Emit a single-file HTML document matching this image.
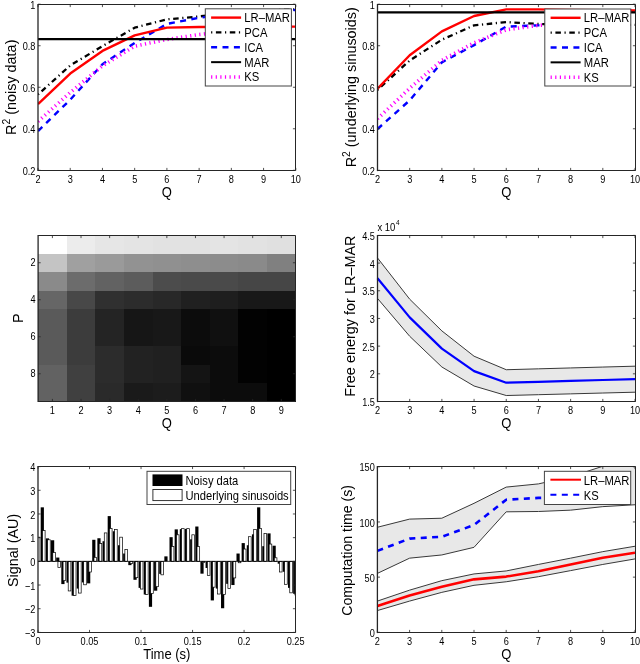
<!DOCTYPE html>
<html><head><meta charset="utf-8"><style>html,body{margin:0;padding:0;background:#fff;}svg{display:block;filter:blur(0.3px);}</style></head>
<body><svg width="640" height="664" viewBox="0 0 640 664" font-family='"Liberation Sans", sans-serif' fill="#000">
<rect width="640" height="664" fill="#fff"/>
<svg x="0" y="0" width="640" height="664" overflow="visible">
<clipPath id="c384"><rect x="38.0" y="4.2" width="257.8" height="166.10000000000002"/></clipPath>
<g clip-path="url(#c384)">
<polyline points="38.00,94.52 70.22,65.45 102.45,46.14 134.68,27.66 166.90,19.36 199.12,16.45 231.35,12.92 263.58,10.43 295.80,9.39" fill="none" stroke="#000000" stroke-width="2.3" stroke-dasharray="1.2 3.6 5.5 3.6" stroke-linejoin="round"/>
<polyline points="38.00,131.06 70.22,99.71 102.45,64.20 134.68,43.03 166.90,23.92 199.12,17.70 231.35,14.17 263.58,11.67 295.80,10.01" fill="none" stroke="#0000ff" stroke-width="2.4" stroke-dasharray="6 5.4" stroke-linejoin="round"/>
<polyline points="38.00,121.51 70.22,92.44 102.45,65.86 134.68,46.14 166.90,39.50 199.12,34.51 231.35,31.19 263.58,28.08 295.80,26.42" fill="none" stroke="#ff00ff" stroke-width="3.6" stroke-dasharray="1.2 3.4" stroke-linejoin="round"/>
<polyline points="38.00,104.07 70.22,73.55 102.45,50.92 134.68,35.34 166.90,27.66 199.12,27.04 231.35,26.83 263.58,26.62 295.80,26.62" fill="none" stroke="#ff0000" stroke-width="2.4" stroke-linejoin="round"/>
<line x1="38.0" y1="39.08100000000002" x2="295.8" y2="39.08100000000002" stroke="#000" stroke-width="2.3"/>
</g></svg>
<path d="M38.0 4.5H295.5M295.5 4.5V170.5M38.0 170.5H295.5" fill="none" stroke="#262626" stroke-width="1"/>
<line x1="38.0" y1="4.0" x2="38.0" y2="171.1" stroke="#262626" stroke-width="1.3"/>
<line x1="38.0" y1="170.5" x2="38.0" y2="167.9" stroke="#262626" stroke-width="0.8"/>
<line x1="38.0" y1="4.5" x2="38.0" y2="7.1" stroke="#262626" stroke-width="0.8"/>
<line x1="70.225" y1="170.5" x2="70.225" y2="167.9" stroke="#262626" stroke-width="0.8"/>
<line x1="70.225" y1="4.5" x2="70.225" y2="7.1" stroke="#262626" stroke-width="0.8"/>
<line x1="102.45" y1="170.5" x2="102.45" y2="167.9" stroke="#262626" stroke-width="0.8"/>
<line x1="102.45" y1="4.5" x2="102.45" y2="7.1" stroke="#262626" stroke-width="0.8"/>
<line x1="134.675" y1="170.5" x2="134.675" y2="167.9" stroke="#262626" stroke-width="0.8"/>
<line x1="134.675" y1="4.5" x2="134.675" y2="7.1" stroke="#262626" stroke-width="0.8"/>
<line x1="166.9" y1="170.5" x2="166.9" y2="167.9" stroke="#262626" stroke-width="0.8"/>
<line x1="166.9" y1="4.5" x2="166.9" y2="7.1" stroke="#262626" stroke-width="0.8"/>
<line x1="199.125" y1="170.5" x2="199.125" y2="167.9" stroke="#262626" stroke-width="0.8"/>
<line x1="199.125" y1="4.5" x2="199.125" y2="7.1" stroke="#262626" stroke-width="0.8"/>
<line x1="231.35000000000002" y1="170.5" x2="231.35000000000002" y2="167.9" stroke="#262626" stroke-width="0.8"/>
<line x1="231.35000000000002" y1="4.5" x2="231.35000000000002" y2="7.1" stroke="#262626" stroke-width="0.8"/>
<line x1="263.57500000000005" y1="170.5" x2="263.57500000000005" y2="167.9" stroke="#262626" stroke-width="0.8"/>
<line x1="263.57500000000005" y1="4.5" x2="263.57500000000005" y2="7.1" stroke="#262626" stroke-width="0.8"/>
<line x1="295.8" y1="170.5" x2="295.8" y2="167.9" stroke="#262626" stroke-width="0.8"/>
<line x1="295.8" y1="4.5" x2="295.8" y2="7.1" stroke="#262626" stroke-width="0.8"/>
<line x1="38.0" y1="170.3" x2="40.6" y2="170.3" stroke="#262626" stroke-width="0.8"/>
<line x1="295.5" y1="170.3" x2="292.9" y2="170.3" stroke="#262626" stroke-width="0.8"/>
<line x1="38.0" y1="128.775" x2="40.6" y2="128.775" stroke="#262626" stroke-width="0.8"/>
<line x1="295.5" y1="128.775" x2="292.9" y2="128.775" stroke="#262626" stroke-width="0.8"/>
<line x1="38.0" y1="87.25000000000001" x2="40.6" y2="87.25000000000001" stroke="#262626" stroke-width="0.8"/>
<line x1="295.5" y1="87.25000000000001" x2="292.9" y2="87.25000000000001" stroke="#262626" stroke-width="0.8"/>
<line x1="38.0" y1="45.725" x2="40.6" y2="45.725" stroke="#262626" stroke-width="0.8"/>
<line x1="295.5" y1="45.725" x2="292.9" y2="45.725" stroke="#262626" stroke-width="0.8"/>
<line x1="38.0" y1="4.2" x2="40.6" y2="4.2" stroke="#262626" stroke-width="0.8"/>
<line x1="295.5" y1="4.2" x2="292.9" y2="4.2" stroke="#262626" stroke-width="0.8"/>
<text transform="translate(38.00 182.80) scale(0.82 1)" font-size="11.2" text-anchor="middle">2</text>
<text transform="translate(70.22 182.80) scale(0.82 1)" font-size="11.2" text-anchor="middle">3</text>
<text transform="translate(102.45 182.80) scale(0.82 1)" font-size="11.2" text-anchor="middle">4</text>
<text transform="translate(134.68 182.80) scale(0.82 1)" font-size="11.2" text-anchor="middle">5</text>
<text transform="translate(166.90 182.80) scale(0.82 1)" font-size="11.2" text-anchor="middle">6</text>
<text transform="translate(199.12 182.80) scale(0.82 1)" font-size="11.2" text-anchor="middle">7</text>
<text transform="translate(231.35 182.80) scale(0.82 1)" font-size="11.2" text-anchor="middle">8</text>
<text transform="translate(263.58 182.80) scale(0.82 1)" font-size="11.2" text-anchor="middle">9</text>
<text transform="translate(295.80 182.80) scale(0.82 1)" font-size="11.2" text-anchor="middle">10</text>
<text transform="translate(35.40 174.90) scale(0.82 1)" font-size="11.2" text-anchor="end">0.2</text>
<text transform="translate(35.40 133.38) scale(0.82 1)" font-size="11.2" text-anchor="end">0.4</text>
<text transform="translate(35.40 91.85) scale(0.82 1)" font-size="11.2" text-anchor="end">0.6</text>
<text transform="translate(35.40 50.33) scale(0.82 1)" font-size="11.2" text-anchor="end">0.8</text>
<text transform="translate(35.40 8.80) scale(0.82 1)" font-size="11.2" text-anchor="end">1</text>
<text transform="translate(166.90 197.10) scale(0.905 1)" font-size="14.4" text-anchor="middle">Q</text>
<rect x="205.3" y="8.8" width="86.09999999999997" height="77.2" fill="#fff" stroke="#444" stroke-width="1"/>
<line x1="211.10000000000002" y1="17.6" x2="241.10000000000002" y2="17.6" stroke="#ff0000" stroke-width="2.4"/>
<text transform="translate(244.30 22.00) scale(0.895 1)" font-size="12.6" text-anchor="start">LR–MAR</text>
<line x1="211.10000000000002" y1="32.45" x2="241.10000000000002" y2="32.45" stroke="#000000" stroke-width="2.3" stroke-dasharray="1.2 3.6 5.5 3.6"/>
<text transform="translate(244.30 36.85) scale(0.895 1)" font-size="12.6" text-anchor="start">PCA</text>
<line x1="211.10000000000002" y1="47.3" x2="241.10000000000002" y2="47.3" stroke="#0000ff" stroke-width="2.4" stroke-dasharray="6 5.4"/>
<text transform="translate(244.30 51.70) scale(0.895 1)" font-size="12.6" text-anchor="start">ICA</text>
<line x1="211.10000000000002" y1="62.15" x2="241.10000000000002" y2="62.15" stroke="#000" stroke-width="2"/>
<text transform="translate(244.30 66.55) scale(0.895 1)" font-size="12.6" text-anchor="start">MAR</text>
<line x1="211.10000000000002" y1="77.0" x2="241.10000000000002" y2="77.0" stroke="#ff00ff" stroke-width="3.6" stroke-dasharray="1.2 3.4"/>
<text transform="translate(244.30 81.40) scale(0.895 1)" font-size="12.6" text-anchor="start">KS</text>
<text transform="translate(15.5 87.25) rotate(-90)" font-size="14.4" text-anchor="middle">R<tspan font-size="10.3" dy="-6">2</tspan><tspan dy="6"> (noisy data)</tspan></text>
<svg x="0" y="0" width="640" height="664" overflow="visible">
<clipPath id="c3774"><rect x="377.5" y="4.2" width="257.5" height="166.10000000000002"/></clipPath>
<g clip-path="url(#c3774)">
<polyline points="377.50,89.95 409.69,60.47 441.88,39.70 474.06,25.38 506.25,22.06 538.44,23.92 570.62,24.96 602.81,24.96 635.00,24.96" fill="none" stroke="#000000" stroke-width="2.3" stroke-dasharray="1.2 3.6 5.5 3.6" stroke-linejoin="round"/>
<polyline points="377.50,128.98 409.69,100.33 441.88,62.34 474.06,45.10 506.25,26.62 538.44,25.38 570.62,26.00 602.81,29.12 635.00,32.23" fill="none" stroke="#0000ff" stroke-width="2.4" stroke-dasharray="6 5.4" stroke-linejoin="round"/>
<polyline points="377.50,118.81 409.69,88.29 441.88,60.26 474.06,42.82 506.25,29.74 538.44,25.38 570.62,22.89 602.81,18.73 635.00,10.43" fill="none" stroke="#ff00ff" stroke-width="3.6" stroke-dasharray="1.2 3.4" stroke-linejoin="round"/>
<polyline points="377.50,88.70 409.69,55.28 441.88,31.40 474.06,16.03 506.25,9.39 538.44,9.39 570.62,10.01 602.81,10.22 635.00,10.43" fill="none" stroke="#ff0000" stroke-width="2.4" stroke-linejoin="round"/>
<line x1="377.5" y1="12.29737500000001" x2="635.0" y2="12.29737500000001" stroke="#000" stroke-width="2.3"/>
</g></svg>
<path d="M377.5 4.5H635.5M635.5 4.5V170.5M377.5 170.5H635.5" fill="none" stroke="#262626" stroke-width="1"/>
<line x1="377.5" y1="4.0" x2="377.5" y2="171.1" stroke="#262626" stroke-width="1.3"/>
<line x1="377.5" y1="170.5" x2="377.5" y2="167.9" stroke="#262626" stroke-width="0.8"/>
<line x1="377.5" y1="4.5" x2="377.5" y2="7.1" stroke="#262626" stroke-width="0.8"/>
<line x1="409.6875" y1="170.5" x2="409.6875" y2="167.9" stroke="#262626" stroke-width="0.8"/>
<line x1="409.6875" y1="4.5" x2="409.6875" y2="7.1" stroke="#262626" stroke-width="0.8"/>
<line x1="441.875" y1="170.5" x2="441.875" y2="167.9" stroke="#262626" stroke-width="0.8"/>
<line x1="441.875" y1="4.5" x2="441.875" y2="7.1" stroke="#262626" stroke-width="0.8"/>
<line x1="474.0625" y1="170.5" x2="474.0625" y2="167.9" stroke="#262626" stroke-width="0.8"/>
<line x1="474.0625" y1="4.5" x2="474.0625" y2="7.1" stroke="#262626" stroke-width="0.8"/>
<line x1="506.25" y1="170.5" x2="506.25" y2="167.9" stroke="#262626" stroke-width="0.8"/>
<line x1="506.25" y1="4.5" x2="506.25" y2="7.1" stroke="#262626" stroke-width="0.8"/>
<line x1="538.4375" y1="170.5" x2="538.4375" y2="167.9" stroke="#262626" stroke-width="0.8"/>
<line x1="538.4375" y1="4.5" x2="538.4375" y2="7.1" stroke="#262626" stroke-width="0.8"/>
<line x1="570.625" y1="170.5" x2="570.625" y2="167.9" stroke="#262626" stroke-width="0.8"/>
<line x1="570.625" y1="4.5" x2="570.625" y2="7.1" stroke="#262626" stroke-width="0.8"/>
<line x1="602.8125" y1="170.5" x2="602.8125" y2="167.9" stroke="#262626" stroke-width="0.8"/>
<line x1="602.8125" y1="4.5" x2="602.8125" y2="7.1" stroke="#262626" stroke-width="0.8"/>
<line x1="635.0" y1="170.5" x2="635.0" y2="167.9" stroke="#262626" stroke-width="0.8"/>
<line x1="635.0" y1="4.5" x2="635.0" y2="7.1" stroke="#262626" stroke-width="0.8"/>
<line x1="377.5" y1="170.3" x2="380.1" y2="170.3" stroke="#262626" stroke-width="0.8"/>
<line x1="635.5" y1="170.3" x2="632.9" y2="170.3" stroke="#262626" stroke-width="0.8"/>
<line x1="377.5" y1="128.775" x2="380.1" y2="128.775" stroke="#262626" stroke-width="0.8"/>
<line x1="635.5" y1="128.775" x2="632.9" y2="128.775" stroke="#262626" stroke-width="0.8"/>
<line x1="377.5" y1="87.25000000000001" x2="380.1" y2="87.25000000000001" stroke="#262626" stroke-width="0.8"/>
<line x1="635.5" y1="87.25000000000001" x2="632.9" y2="87.25000000000001" stroke="#262626" stroke-width="0.8"/>
<line x1="377.5" y1="45.725" x2="380.1" y2="45.725" stroke="#262626" stroke-width="0.8"/>
<line x1="635.5" y1="45.725" x2="632.9" y2="45.725" stroke="#262626" stroke-width="0.8"/>
<line x1="377.5" y1="4.2" x2="380.1" y2="4.2" stroke="#262626" stroke-width="0.8"/>
<line x1="635.5" y1="4.2" x2="632.9" y2="4.2" stroke="#262626" stroke-width="0.8"/>
<text transform="translate(377.50 182.80) scale(0.82 1)" font-size="11.2" text-anchor="middle">2</text>
<text transform="translate(409.69 182.80) scale(0.82 1)" font-size="11.2" text-anchor="middle">3</text>
<text transform="translate(441.88 182.80) scale(0.82 1)" font-size="11.2" text-anchor="middle">4</text>
<text transform="translate(474.06 182.80) scale(0.82 1)" font-size="11.2" text-anchor="middle">5</text>
<text transform="translate(506.25 182.80) scale(0.82 1)" font-size="11.2" text-anchor="middle">6</text>
<text transform="translate(538.44 182.80) scale(0.82 1)" font-size="11.2" text-anchor="middle">7</text>
<text transform="translate(570.62 182.80) scale(0.82 1)" font-size="11.2" text-anchor="middle">8</text>
<text transform="translate(602.81 182.80) scale(0.82 1)" font-size="11.2" text-anchor="middle">9</text>
<text transform="translate(635.00 182.80) scale(0.82 1)" font-size="11.2" text-anchor="middle">10</text>
<text transform="translate(374.90 174.90) scale(0.82 1)" font-size="11.2" text-anchor="end">0.2</text>
<text transform="translate(374.90 133.38) scale(0.82 1)" font-size="11.2" text-anchor="end">0.4</text>
<text transform="translate(374.90 91.85) scale(0.82 1)" font-size="11.2" text-anchor="end">0.6</text>
<text transform="translate(374.90 50.33) scale(0.82 1)" font-size="11.2" text-anchor="end">0.8</text>
<text transform="translate(374.90 8.80) scale(0.82 1)" font-size="11.2" text-anchor="end">1</text>
<text transform="translate(506.25 197.10) scale(0.905 1)" font-size="14.4" text-anchor="middle">Q</text>
<rect x="544.8" y="9.0" width="86.0" height="77.0" fill="#fff" stroke="#444" stroke-width="1"/>
<line x1="550.5999999999999" y1="17.8" x2="580.5999999999999" y2="17.8" stroke="#ff0000" stroke-width="2.4"/>
<text transform="translate(583.80 22.20) scale(0.895 1)" font-size="12.6" text-anchor="start">LR–MAR</text>
<line x1="550.5999999999999" y1="32.65" x2="580.5999999999999" y2="32.65" stroke="#000000" stroke-width="2.3" stroke-dasharray="1.2 3.6 5.5 3.6"/>
<text transform="translate(583.80 37.05) scale(0.895 1)" font-size="12.6" text-anchor="start">PCA</text>
<line x1="550.5999999999999" y1="47.5" x2="580.5999999999999" y2="47.5" stroke="#0000ff" stroke-width="2.4" stroke-dasharray="6 5.4"/>
<text transform="translate(583.80 51.90) scale(0.895 1)" font-size="12.6" text-anchor="start">ICA</text>
<line x1="550.5999999999999" y1="62.349999999999994" x2="580.5999999999999" y2="62.349999999999994" stroke="#000" stroke-width="2"/>
<text transform="translate(583.80 66.75) scale(0.895 1)" font-size="12.6" text-anchor="start">MAR</text>
<line x1="550.5999999999999" y1="77.2" x2="580.5999999999999" y2="77.2" stroke="#ff00ff" stroke-width="3.6" stroke-dasharray="1.2 3.4"/>
<text transform="translate(583.80 81.60) scale(0.895 1)" font-size="12.6" text-anchor="start">KS</text>
<text transform="translate(356 87.25) rotate(-90)" font-size="14.4" text-anchor="middle">R<tspan font-size="10.3" dy="-6">2</tspan><tspan dy="6"> (underlying sinusoids)</tspan></text>
<rect x="38.10" y="235.00" width="29.21" height="19.10" fill="rgb(255,255,255)" shape-rendering="crispEdges"/>
<rect x="66.71" y="235.00" width="29.21" height="19.10" fill="rgb(236,236,236)" shape-rendering="crispEdges"/>
<rect x="95.32" y="235.00" width="29.21" height="19.10" fill="rgb(230,230,230)" shape-rendering="crispEdges"/>
<rect x="123.93" y="235.00" width="29.21" height="19.10" fill="rgb(228,228,228)" shape-rendering="crispEdges"/>
<rect x="152.54" y="235.00" width="29.21" height="19.10" fill="rgb(226,226,226)" shape-rendering="crispEdges"/>
<rect x="181.16" y="235.00" width="29.21" height="19.10" fill="rgb(226,226,226)" shape-rendering="crispEdges"/>
<rect x="209.77" y="235.00" width="29.21" height="19.10" fill="rgb(228,228,228)" shape-rendering="crispEdges"/>
<rect x="238.38" y="235.00" width="29.21" height="19.10" fill="rgb(226,226,226)" shape-rendering="crispEdges"/>
<rect x="266.99" y="235.00" width="29.21" height="19.10" fill="rgb(224,224,224)" shape-rendering="crispEdges"/>
<rect x="38.10" y="253.50" width="29.21" height="19.10" fill="rgb(196,196,196)" shape-rendering="crispEdges"/>
<rect x="66.71" y="253.50" width="29.21" height="19.10" fill="rgb(160,160,160)" shape-rendering="crispEdges"/>
<rect x="95.32" y="253.50" width="29.21" height="19.10" fill="rgb(154,154,154)" shape-rendering="crispEdges"/>
<rect x="123.93" y="253.50" width="29.21" height="19.10" fill="rgb(146,146,146)" shape-rendering="crispEdges"/>
<rect x="152.54" y="253.50" width="29.21" height="19.10" fill="rgb(144,144,144)" shape-rendering="crispEdges"/>
<rect x="181.16" y="253.50" width="29.21" height="19.10" fill="rgb(142,142,142)" shape-rendering="crispEdges"/>
<rect x="209.77" y="253.50" width="29.21" height="19.10" fill="rgb(140,140,140)" shape-rendering="crispEdges"/>
<rect x="238.38" y="253.50" width="29.21" height="19.10" fill="rgb(138,138,138)" shape-rendering="crispEdges"/>
<rect x="266.99" y="253.50" width="29.21" height="19.10" fill="rgb(128,128,128)" shape-rendering="crispEdges"/>
<rect x="38.10" y="272.00" width="29.21" height="19.10" fill="rgb(138,138,138)" shape-rendering="crispEdges"/>
<rect x="66.71" y="272.00" width="29.21" height="19.10" fill="rgb(108,108,108)" shape-rendering="crispEdges"/>
<rect x="95.32" y="272.00" width="29.21" height="19.10" fill="rgb(98,98,98)" shape-rendering="crispEdges"/>
<rect x="123.93" y="272.00" width="29.21" height="19.10" fill="rgb(92,92,92)" shape-rendering="crispEdges"/>
<rect x="152.54" y="272.00" width="29.21" height="19.10" fill="rgb(76,76,76)" shape-rendering="crispEdges"/>
<rect x="181.16" y="272.00" width="29.21" height="19.10" fill="rgb(74,74,74)" shape-rendering="crispEdges"/>
<rect x="209.77" y="272.00" width="29.21" height="19.10" fill="rgb(74,74,74)" shape-rendering="crispEdges"/>
<rect x="238.38" y="272.00" width="29.21" height="19.10" fill="rgb(70,70,70)" shape-rendering="crispEdges"/>
<rect x="266.99" y="272.00" width="29.21" height="19.10" fill="rgb(70,70,70)" shape-rendering="crispEdges"/>
<rect x="38.10" y="290.50" width="29.21" height="19.10" fill="rgb(102,102,102)" shape-rendering="crispEdges"/>
<rect x="66.71" y="290.50" width="29.21" height="19.10" fill="rgb(72,72,72)" shape-rendering="crispEdges"/>
<rect x="95.32" y="290.50" width="29.21" height="19.10" fill="rgb(48,48,48)" shape-rendering="crispEdges"/>
<rect x="123.93" y="290.50" width="29.21" height="19.10" fill="rgb(44,44,44)" shape-rendering="crispEdges"/>
<rect x="152.54" y="290.50" width="29.21" height="19.10" fill="rgb(40,40,40)" shape-rendering="crispEdges"/>
<rect x="181.16" y="290.50" width="29.21" height="19.10" fill="rgb(32,32,32)" shape-rendering="crispEdges"/>
<rect x="209.77" y="290.50" width="29.21" height="19.10" fill="rgb(30,30,30)" shape-rendering="crispEdges"/>
<rect x="238.38" y="290.50" width="29.21" height="19.10" fill="rgb(24,24,24)" shape-rendering="crispEdges"/>
<rect x="266.99" y="290.50" width="29.21" height="19.10" fill="rgb(24,24,24)" shape-rendering="crispEdges"/>
<rect x="38.10" y="309.00" width="29.21" height="19.10" fill="rgb(90,90,90)" shape-rendering="crispEdges"/>
<rect x="66.71" y="309.00" width="29.21" height="19.10" fill="rgb(60,60,60)" shape-rendering="crispEdges"/>
<rect x="95.32" y="309.00" width="29.21" height="19.10" fill="rgb(36,36,36)" shape-rendering="crispEdges"/>
<rect x="123.93" y="309.00" width="29.21" height="19.10" fill="rgb(22,22,22)" shape-rendering="crispEdges"/>
<rect x="152.54" y="309.00" width="29.21" height="19.10" fill="rgb(24,24,24)" shape-rendering="crispEdges"/>
<rect x="181.16" y="309.00" width="29.21" height="19.10" fill="rgb(12,12,12)" shape-rendering="crispEdges"/>
<rect x="209.77" y="309.00" width="29.21" height="19.10" fill="rgb(16,16,16)" shape-rendering="crispEdges"/>
<rect x="238.38" y="309.00" width="29.21" height="19.10" fill="rgb(2,2,2)" shape-rendering="crispEdges"/>
<rect x="266.99" y="309.00" width="29.21" height="19.10" fill="rgb(0,0,0)" shape-rendering="crispEdges"/>
<rect x="38.10" y="327.50" width="29.21" height="19.10" fill="rgb(90,90,90)" shape-rendering="crispEdges"/>
<rect x="66.71" y="327.50" width="29.21" height="19.10" fill="rgb(60,60,60)" shape-rendering="crispEdges"/>
<rect x="95.32" y="327.50" width="29.21" height="19.10" fill="rgb(36,36,36)" shape-rendering="crispEdges"/>
<rect x="123.93" y="327.50" width="29.21" height="19.10" fill="rgb(22,22,22)" shape-rendering="crispEdges"/>
<rect x="152.54" y="327.50" width="29.21" height="19.10" fill="rgb(24,24,24)" shape-rendering="crispEdges"/>
<rect x="181.16" y="327.50" width="29.21" height="19.10" fill="rgb(12,12,12)" shape-rendering="crispEdges"/>
<rect x="209.77" y="327.50" width="29.21" height="19.10" fill="rgb(16,16,16)" shape-rendering="crispEdges"/>
<rect x="238.38" y="327.50" width="29.21" height="19.10" fill="rgb(2,2,2)" shape-rendering="crispEdges"/>
<rect x="266.99" y="327.50" width="29.21" height="19.10" fill="rgb(0,0,0)" shape-rendering="crispEdges"/>
<rect x="38.10" y="346.00" width="29.21" height="19.10" fill="rgb(90,90,90)" shape-rendering="crispEdges"/>
<rect x="66.71" y="346.00" width="29.21" height="19.10" fill="rgb(60,60,60)" shape-rendering="crispEdges"/>
<rect x="95.32" y="346.00" width="29.21" height="19.10" fill="rgb(44,44,44)" shape-rendering="crispEdges"/>
<rect x="123.93" y="346.00" width="29.21" height="19.10" fill="rgb(34,34,34)" shape-rendering="crispEdges"/>
<rect x="152.54" y="346.00" width="29.21" height="19.10" fill="rgb(32,32,32)" shape-rendering="crispEdges"/>
<rect x="181.16" y="346.00" width="29.21" height="19.10" fill="rgb(10,10,10)" shape-rendering="crispEdges"/>
<rect x="209.77" y="346.00" width="29.21" height="19.10" fill="rgb(12,12,12)" shape-rendering="crispEdges"/>
<rect x="238.38" y="346.00" width="29.21" height="19.10" fill="rgb(2,2,2)" shape-rendering="crispEdges"/>
<rect x="266.99" y="346.00" width="29.21" height="19.10" fill="rgb(0,0,0)" shape-rendering="crispEdges"/>
<rect x="38.10" y="364.50" width="29.21" height="19.10" fill="rgb(98,98,98)" shape-rendering="crispEdges"/>
<rect x="66.71" y="364.50" width="29.21" height="19.10" fill="rgb(64,64,64)" shape-rendering="crispEdges"/>
<rect x="95.32" y="364.50" width="29.21" height="19.10" fill="rgb(44,44,44)" shape-rendering="crispEdges"/>
<rect x="123.93" y="364.50" width="29.21" height="19.10" fill="rgb(34,34,34)" shape-rendering="crispEdges"/>
<rect x="152.54" y="364.50" width="29.21" height="19.10" fill="rgb(32,32,32)" shape-rendering="crispEdges"/>
<rect x="181.16" y="364.50" width="29.21" height="19.10" fill="rgb(20,20,20)" shape-rendering="crispEdges"/>
<rect x="209.77" y="364.50" width="29.21" height="19.10" fill="rgb(12,12,12)" shape-rendering="crispEdges"/>
<rect x="238.38" y="364.50" width="29.21" height="19.10" fill="rgb(2,2,2)" shape-rendering="crispEdges"/>
<rect x="266.99" y="364.50" width="29.21" height="19.10" fill="rgb(0,0,0)" shape-rendering="crispEdges"/>
<rect x="38.10" y="383.00" width="29.21" height="19.10" fill="rgb(98,98,98)" shape-rendering="crispEdges"/>
<rect x="66.71" y="383.00" width="29.21" height="19.10" fill="rgb(64,64,64)" shape-rendering="crispEdges"/>
<rect x="95.32" y="383.00" width="29.21" height="19.10" fill="rgb(42,42,42)" shape-rendering="crispEdges"/>
<rect x="123.93" y="383.00" width="29.21" height="19.10" fill="rgb(26,26,26)" shape-rendering="crispEdges"/>
<rect x="152.54" y="383.00" width="29.21" height="19.10" fill="rgb(28,28,28)" shape-rendering="crispEdges"/>
<rect x="181.16" y="383.00" width="29.21" height="19.10" fill="rgb(16,16,16)" shape-rendering="crispEdges"/>
<rect x="209.77" y="383.00" width="29.21" height="19.10" fill="rgb(12,12,12)" shape-rendering="crispEdges"/>
<rect x="238.38" y="383.00" width="29.21" height="19.10" fill="rgb(12,12,12)" shape-rendering="crispEdges"/>
<rect x="266.99" y="383.00" width="29.21" height="19.10" fill="rgb(0,0,0)" shape-rendering="crispEdges"/>
<path d="M38.1 235.5H295.5M295.5 235.5V401.5M38.1 401.5H295.5" fill="none" stroke="#262626" stroke-width="1"/>
<line x1="38.1" y1="235.0" x2="38.1" y2="402.1" stroke="#262626" stroke-width="1.3"/>
<line x1="52.40555555555556" y1="401.5" x2="52.40555555555556" y2="398.9" stroke="#262626" stroke-width="0.8"/>
<line x1="52.40555555555556" y1="235.5" x2="52.40555555555556" y2="238.1" stroke="#262626" stroke-width="0.8"/>
<line x1="81.01666666666667" y1="401.5" x2="81.01666666666667" y2="398.9" stroke="#262626" stroke-width="0.8"/>
<line x1="81.01666666666667" y1="235.5" x2="81.01666666666667" y2="238.1" stroke="#262626" stroke-width="0.8"/>
<line x1="109.62777777777777" y1="401.5" x2="109.62777777777777" y2="398.9" stroke="#262626" stroke-width="0.8"/>
<line x1="109.62777777777777" y1="235.5" x2="109.62777777777777" y2="238.1" stroke="#262626" stroke-width="0.8"/>
<line x1="138.23888888888888" y1="401.5" x2="138.23888888888888" y2="398.9" stroke="#262626" stroke-width="0.8"/>
<line x1="138.23888888888888" y1="235.5" x2="138.23888888888888" y2="238.1" stroke="#262626" stroke-width="0.8"/>
<line x1="166.85" y1="401.5" x2="166.85" y2="398.9" stroke="#262626" stroke-width="0.8"/>
<line x1="166.85" y1="235.5" x2="166.85" y2="238.1" stroke="#262626" stroke-width="0.8"/>
<line x1="195.4611111111111" y1="401.5" x2="195.4611111111111" y2="398.9" stroke="#262626" stroke-width="0.8"/>
<line x1="195.4611111111111" y1="235.5" x2="195.4611111111111" y2="238.1" stroke="#262626" stroke-width="0.8"/>
<line x1="224.07222222222222" y1="401.5" x2="224.07222222222222" y2="398.9" stroke="#262626" stroke-width="0.8"/>
<line x1="224.07222222222222" y1="235.5" x2="224.07222222222222" y2="238.1" stroke="#262626" stroke-width="0.8"/>
<line x1="252.68333333333334" y1="401.5" x2="252.68333333333334" y2="398.9" stroke="#262626" stroke-width="0.8"/>
<line x1="252.68333333333334" y1="235.5" x2="252.68333333333334" y2="238.1" stroke="#262626" stroke-width="0.8"/>
<line x1="281.2944444444444" y1="401.5" x2="281.2944444444444" y2="398.9" stroke="#262626" stroke-width="0.8"/>
<line x1="281.2944444444444" y1="235.5" x2="281.2944444444444" y2="238.1" stroke="#262626" stroke-width="0.8"/>
<line x1="38.1" y1="262.75" x2="40.7" y2="262.75" stroke="#262626" stroke-width="0.8"/>
<line x1="295.5" y1="262.75" x2="292.9" y2="262.75" stroke="#262626" stroke-width="0.8"/>
<line x1="38.1" y1="299.75" x2="40.7" y2="299.75" stroke="#262626" stroke-width="0.8"/>
<line x1="295.5" y1="299.75" x2="292.9" y2="299.75" stroke="#262626" stroke-width="0.8"/>
<line x1="38.1" y1="336.75" x2="40.7" y2="336.75" stroke="#262626" stroke-width="0.8"/>
<line x1="295.5" y1="336.75" x2="292.9" y2="336.75" stroke="#262626" stroke-width="0.8"/>
<line x1="38.1" y1="373.75" x2="40.7" y2="373.75" stroke="#262626" stroke-width="0.8"/>
<line x1="295.5" y1="373.75" x2="292.9" y2="373.75" stroke="#262626" stroke-width="0.8"/>
<text transform="translate(52.41 414.00) scale(0.82 1)" font-size="11.2" text-anchor="middle">1</text>
<text transform="translate(81.02 414.00) scale(0.82 1)" font-size="11.2" text-anchor="middle">2</text>
<text transform="translate(109.63 414.00) scale(0.82 1)" font-size="11.2" text-anchor="middle">3</text>
<text transform="translate(138.24 414.00) scale(0.82 1)" font-size="11.2" text-anchor="middle">4</text>
<text transform="translate(166.85 414.00) scale(0.82 1)" font-size="11.2" text-anchor="middle">5</text>
<text transform="translate(195.46 414.00) scale(0.82 1)" font-size="11.2" text-anchor="middle">6</text>
<text transform="translate(224.07 414.00) scale(0.82 1)" font-size="11.2" text-anchor="middle">7</text>
<text transform="translate(252.68 414.00) scale(0.82 1)" font-size="11.2" text-anchor="middle">8</text>
<text transform="translate(281.29 414.00) scale(0.82 1)" font-size="11.2" text-anchor="middle">9</text>
<text transform="translate(35.50 266.15) scale(0.82 1)" font-size="11.2" text-anchor="end">2</text>
<text transform="translate(35.50 303.15) scale(0.82 1)" font-size="11.2" text-anchor="end">4</text>
<text transform="translate(35.50 340.15) scale(0.82 1)" font-size="11.2" text-anchor="end">6</text>
<text transform="translate(35.50 377.15) scale(0.82 1)" font-size="11.2" text-anchor="end">8</text>
<text transform="translate(166.85 428.30) scale(0.905 1)" font-size="14.4" text-anchor="middle">Q</text>
<text transform="translate(22.8 318.25) rotate(-90)" font-size="14.4" text-anchor="middle">P</text>
<polygon points="377.50,257.93 409.69,299.18 441.88,330.91 474.06,356.21 506.25,369.72 538.44,368.83 570.62,367.95 602.81,367.06 635.00,366.18 635.00,392.20 602.81,393.03 570.62,393.86 538.44,394.69 506.25,395.52 474.06,386.00 441.88,367.01 409.69,336.28 377.50,298.41" fill="#e8e8e8" stroke="none"/>
<polyline points="377.50,257.93 409.69,299.18 441.88,330.91 474.06,356.21 506.25,369.72 538.44,368.83 570.62,367.95 602.81,367.06 635.00,366.18" fill="none" stroke="#383838" stroke-width="1.0" stroke-linejoin="round"/>
<polyline points="377.50,298.41 409.69,336.28 441.88,367.01 474.06,386.00 506.25,395.52 538.44,394.69 570.62,393.86 602.81,393.03 635.00,392.20" fill="none" stroke="#383838" stroke-width="1.0" stroke-linejoin="round"/>
<polyline points="377.50,278.31 409.69,317.40 441.88,348.62 474.06,371.10 506.25,382.68 538.44,381.79 570.62,380.90 602.81,380.02 635.00,379.19" fill="none" stroke="#0000ff" stroke-width="2.2" stroke-linejoin="round"/>
<path d="M377.5 235.5H635.5M635.5 235.5V401.5M377.5 401.5H635.5" fill="none" stroke="#262626" stroke-width="1"/>
<line x1="377.5" y1="235.0" x2="377.5" y2="402.1" stroke="#262626" stroke-width="1.3"/>
<line x1="377.5" y1="401.5" x2="377.5" y2="398.9" stroke="#262626" stroke-width="0.8"/>
<line x1="377.5" y1="235.5" x2="377.5" y2="238.1" stroke="#262626" stroke-width="0.8"/>
<line x1="409.6875" y1="401.5" x2="409.6875" y2="398.9" stroke="#262626" stroke-width="0.8"/>
<line x1="409.6875" y1="235.5" x2="409.6875" y2="238.1" stroke="#262626" stroke-width="0.8"/>
<line x1="441.875" y1="401.5" x2="441.875" y2="398.9" stroke="#262626" stroke-width="0.8"/>
<line x1="441.875" y1="235.5" x2="441.875" y2="238.1" stroke="#262626" stroke-width="0.8"/>
<line x1="474.0625" y1="401.5" x2="474.0625" y2="398.9" stroke="#262626" stroke-width="0.8"/>
<line x1="474.0625" y1="235.5" x2="474.0625" y2="238.1" stroke="#262626" stroke-width="0.8"/>
<line x1="506.25" y1="401.5" x2="506.25" y2="398.9" stroke="#262626" stroke-width="0.8"/>
<line x1="506.25" y1="235.5" x2="506.25" y2="238.1" stroke="#262626" stroke-width="0.8"/>
<line x1="538.4375" y1="401.5" x2="538.4375" y2="398.9" stroke="#262626" stroke-width="0.8"/>
<line x1="538.4375" y1="235.5" x2="538.4375" y2="238.1" stroke="#262626" stroke-width="0.8"/>
<line x1="570.625" y1="401.5" x2="570.625" y2="398.9" stroke="#262626" stroke-width="0.8"/>
<line x1="570.625" y1="235.5" x2="570.625" y2="238.1" stroke="#262626" stroke-width="0.8"/>
<line x1="602.8125" y1="401.5" x2="602.8125" y2="398.9" stroke="#262626" stroke-width="0.8"/>
<line x1="602.8125" y1="235.5" x2="602.8125" y2="238.1" stroke="#262626" stroke-width="0.8"/>
<line x1="635.0" y1="401.5" x2="635.0" y2="398.9" stroke="#262626" stroke-width="0.8"/>
<line x1="635.0" y1="235.5" x2="635.0" y2="238.1" stroke="#262626" stroke-width="0.8"/>
<line x1="377.5" y1="401.5" x2="380.1" y2="401.5" stroke="#262626" stroke-width="0.8"/>
<line x1="635.5" y1="401.5" x2="632.9" y2="401.5" stroke="#262626" stroke-width="0.8"/>
<line x1="377.5" y1="373.81666666666666" x2="380.1" y2="373.81666666666666" stroke="#262626" stroke-width="0.8"/>
<line x1="635.5" y1="373.81666666666666" x2="632.9" y2="373.81666666666666" stroke="#262626" stroke-width="0.8"/>
<line x1="377.5" y1="346.1333333333333" x2="380.1" y2="346.1333333333333" stroke="#262626" stroke-width="0.8"/>
<line x1="635.5" y1="346.1333333333333" x2="632.9" y2="346.1333333333333" stroke="#262626" stroke-width="0.8"/>
<line x1="377.5" y1="318.45" x2="380.1" y2="318.45" stroke="#262626" stroke-width="0.8"/>
<line x1="635.5" y1="318.45" x2="632.9" y2="318.45" stroke="#262626" stroke-width="0.8"/>
<line x1="377.5" y1="290.76666666666665" x2="380.1" y2="290.76666666666665" stroke="#262626" stroke-width="0.8"/>
<line x1="635.5" y1="290.76666666666665" x2="632.9" y2="290.76666666666665" stroke="#262626" stroke-width="0.8"/>
<line x1="377.5" y1="263.08333333333337" x2="380.1" y2="263.08333333333337" stroke="#262626" stroke-width="0.8"/>
<line x1="635.5" y1="263.08333333333337" x2="632.9" y2="263.08333333333337" stroke="#262626" stroke-width="0.8"/>
<line x1="377.5" y1="235.4" x2="380.1" y2="235.4" stroke="#262626" stroke-width="0.8"/>
<line x1="635.5" y1="235.4" x2="632.9" y2="235.4" stroke="#262626" stroke-width="0.8"/>
<text transform="translate(377.50 414.00) scale(0.82 1)" font-size="11.2" text-anchor="middle">2</text>
<text transform="translate(409.69 414.00) scale(0.82 1)" font-size="11.2" text-anchor="middle">3</text>
<text transform="translate(441.88 414.00) scale(0.82 1)" font-size="11.2" text-anchor="middle">4</text>
<text transform="translate(474.06 414.00) scale(0.82 1)" font-size="11.2" text-anchor="middle">5</text>
<text transform="translate(506.25 414.00) scale(0.82 1)" font-size="11.2" text-anchor="middle">6</text>
<text transform="translate(538.44 414.00) scale(0.82 1)" font-size="11.2" text-anchor="middle">7</text>
<text transform="translate(570.62 414.00) scale(0.82 1)" font-size="11.2" text-anchor="middle">8</text>
<text transform="translate(602.81 414.00) scale(0.82 1)" font-size="11.2" text-anchor="middle">9</text>
<text transform="translate(635.00 414.00) scale(0.82 1)" font-size="11.2" text-anchor="middle">10</text>
<text transform="translate(374.90 406.10) scale(0.82 1)" font-size="11.2" text-anchor="end">1.5</text>
<text transform="translate(374.90 378.42) scale(0.82 1)" font-size="11.2" text-anchor="end">2</text>
<text transform="translate(374.90 350.73) scale(0.82 1)" font-size="11.2" text-anchor="end">2.5</text>
<text transform="translate(374.90 323.05) scale(0.82 1)" font-size="11.2" text-anchor="end">3</text>
<text transform="translate(374.90 295.37) scale(0.82 1)" font-size="11.2" text-anchor="end">3.5</text>
<text transform="translate(374.90 267.68) scale(0.82 1)" font-size="11.2" text-anchor="end">4</text>
<text transform="translate(374.90 240.00) scale(0.82 1)" font-size="11.2" text-anchor="end">4.5</text>
<text transform="translate(506.25 428.30) scale(0.905 1)" font-size="14.4" text-anchor="middle">Q</text>
<text transform="translate(377.5 230.6) scale(0.86 1)" font-size="11">x 10<tspan font-size="7.5" dx="0.8" dy="-5.2">4</tspan></text>
<text transform="translate(355.2 316.15) rotate(-90) scale(1.04 1)" font-size="13.9" text-anchor="middle">Free energy for LR–MAR</text>
<clipPath id="cbar"><rect x="38.0" y="466.6" width="257.6" height="165.79999999999995"/></clipPath><g clip-path="url(#cbar)">
<rect x="35.55" y="537.66" width="3.2" height="23.69" fill="#000"/>
<rect x="40.70" y="507.34" width="3.2" height="54.00" fill="#000"/>
<rect x="45.85" y="538.37" width="3.2" height="22.98" fill="#000"/>
<rect x="51.01" y="540.26" width="3.2" height="21.08" fill="#000"/>
<rect x="56.16" y="557.55" width="3.2" height="3.79" fill="#000"/>
<rect x="61.31" y="561.34" width="3.2" height="22.74" fill="#000"/>
<rect x="66.46" y="561.34" width="3.2" height="21.32" fill="#000"/>
<rect x="71.61" y="561.34" width="3.2" height="34.34" fill="#000"/>
<rect x="76.77" y="561.34" width="3.2" height="27.24" fill="#000"/>
<rect x="81.92" y="561.34" width="3.2" height="21.08" fill="#000"/>
<rect x="87.07" y="561.34" width="3.2" height="22.03" fill="#000"/>
<rect x="92.22" y="539.79" width="3.2" height="21.55" fill="#000"/>
<rect x="97.37" y="538.25" width="3.2" height="23.09" fill="#000"/>
<rect x="102.53" y="541.21" width="3.2" height="20.13" fill="#000"/>
<rect x="107.68" y="516.10" width="3.2" height="45.24" fill="#000"/>
<rect x="112.83" y="531.26" width="3.2" height="30.08" fill="#000"/>
<rect x="117.98" y="545.24" width="3.2" height="16.11" fill="#000"/>
<rect x="123.13" y="553.53" width="3.2" height="7.82" fill="#000"/>
<rect x="128.29" y="561.34" width="3.2" height="3.79" fill="#000"/>
<rect x="133.44" y="561.34" width="3.2" height="18.47" fill="#000"/>
<rect x="138.59" y="561.34" width="3.2" height="26.53" fill="#000"/>
<rect x="143.74" y="561.34" width="3.2" height="33.16" fill="#000"/>
<rect x="148.89" y="561.34" width="3.2" height="45.48" fill="#000"/>
<rect x="154.05" y="561.34" width="3.2" height="29.37" fill="#000"/>
<rect x="159.20" y="561.34" width="3.2" height="12.55" fill="#000"/>
<rect x="164.35" y="556.37" width="3.2" height="4.97" fill="#000"/>
<rect x="169.50" y="537.18" width="3.2" height="24.16" fill="#000"/>
<rect x="174.65" y="529.37" width="3.2" height="31.98" fill="#000"/>
<rect x="179.81" y="529.13" width="3.2" height="32.21" fill="#000"/>
<rect x="184.96" y="528.89" width="3.2" height="32.45" fill="#000"/>
<rect x="190.11" y="539.32" width="3.2" height="22.03" fill="#000"/>
<rect x="195.26" y="526.52" width="3.2" height="34.82" fill="#000"/>
<rect x="200.41" y="561.34" width="3.2" height="12.32" fill="#000"/>
<rect x="205.57" y="561.34" width="3.2" height="6.63" fill="#000"/>
<rect x="210.72" y="561.34" width="3.2" height="39.08" fill="#000"/>
<rect x="215.87" y="561.34" width="3.2" height="27.24" fill="#000"/>
<rect x="221.02" y="561.34" width="3.2" height="46.90" fill="#000"/>
<rect x="226.17" y="561.34" width="3.2" height="22.50" fill="#000"/>
<rect x="231.33" y="561.34" width="3.2" height="23.69" fill="#000"/>
<rect x="236.48" y="553.53" width="3.2" height="7.82" fill="#000"/>
<rect x="241.63" y="543.10" width="3.2" height="18.24" fill="#000"/>
<rect x="246.78" y="545.24" width="3.2" height="16.11" fill="#000"/>
<rect x="251.93" y="534.34" width="3.2" height="27.00" fill="#000"/>
<rect x="257.09" y="507.34" width="3.2" height="54.00" fill="#000"/>
<rect x="262.24" y="546.18" width="3.2" height="15.16" fill="#000"/>
<rect x="267.39" y="533.39" width="3.2" height="27.95" fill="#000"/>
<rect x="272.54" y="545.71" width="3.2" height="15.63" fill="#000"/>
<rect x="277.69" y="561.34" width="3.2" height="2.37" fill="#000"/>
<rect x="282.85" y="561.34" width="3.2" height="10.42" fill="#000"/>
<rect x="288.00" y="561.34" width="3.2" height="26.53" fill="#000"/>
<rect x="293.15" y="561.34" width="3.2" height="32.45" fill="#000"/>
<rect x="37.30" y="537.18" width="2.65" height="24.16" fill="#fff" stroke="#000" stroke-width="0.7"/>
<rect x="42.45" y="530.55" width="2.65" height="30.79" fill="#fff" stroke="#000" stroke-width="0.7"/>
<rect x="47.60" y="539.79" width="2.65" height="21.55" fill="#fff" stroke="#000" stroke-width="0.7"/>
<rect x="52.76" y="552.58" width="2.65" height="8.76" fill="#fff" stroke="#000" stroke-width="0.7"/>
<rect x="57.91" y="561.34" width="2.65" height="6.16" fill="#fff" stroke="#000" stroke-width="0.7"/>
<rect x="63.06" y="561.34" width="2.65" height="19.19" fill="#fff" stroke="#000" stroke-width="0.7"/>
<rect x="68.21" y="561.34" width="2.65" height="29.61" fill="#fff" stroke="#000" stroke-width="0.7"/>
<rect x="73.36" y="561.34" width="2.65" height="34.11" fill="#fff" stroke="#000" stroke-width="0.7"/>
<rect x="78.52" y="561.34" width="2.65" height="31.74" fill="#fff" stroke="#000" stroke-width="0.7"/>
<rect x="83.67" y="561.34" width="2.65" height="23.45" fill="#fff" stroke="#000" stroke-width="0.7"/>
<rect x="88.82" y="561.34" width="2.65" height="10.66" fill="#fff" stroke="#000" stroke-width="0.7"/>
<rect x="93.97" y="557.32" width="2.65" height="4.03" fill="#fff" stroke="#000" stroke-width="0.7"/>
<rect x="99.12" y="543.58" width="2.65" height="17.76" fill="#fff" stroke="#000" stroke-width="0.7"/>
<rect x="104.28" y="532.92" width="2.65" height="28.42" fill="#fff" stroke="#000" stroke-width="0.7"/>
<rect x="109.43" y="528.42" width="2.65" height="32.92" fill="#fff" stroke="#000" stroke-width="0.7"/>
<rect x="114.58" y="529.37" width="2.65" height="31.98" fill="#fff" stroke="#000" stroke-width="0.7"/>
<rect x="119.73" y="537.18" width="2.65" height="24.16" fill="#fff" stroke="#000" stroke-width="0.7"/>
<rect x="124.88" y="549.50" width="2.65" height="11.84" fill="#fff" stroke="#000" stroke-width="0.7"/>
<rect x="130.04" y="561.34" width="2.65" height="2.13" fill="#fff" stroke="#000" stroke-width="0.7"/>
<rect x="135.19" y="561.34" width="2.65" height="16.34" fill="#fff" stroke="#000" stroke-width="0.7"/>
<rect x="140.34" y="561.34" width="2.65" height="27.71" fill="#fff" stroke="#000" stroke-width="0.7"/>
<rect x="145.49" y="561.34" width="2.65" height="33.16" fill="#fff" stroke="#000" stroke-width="0.7"/>
<rect x="150.64" y="561.34" width="2.65" height="32.21" fill="#fff" stroke="#000" stroke-width="0.7"/>
<rect x="155.80" y="561.34" width="2.65" height="25.34" fill="#fff" stroke="#000" stroke-width="0.7"/>
<rect x="160.95" y="561.34" width="2.65" height="13.50" fill="#fff" stroke="#000" stroke-width="0.7"/>
<rect x="166.10" y="561.34" width="2.65" height="0.00" fill="#fff" stroke="#000" stroke-width="0.7"/>
<rect x="171.25" y="546.42" width="2.65" height="14.92" fill="#fff" stroke="#000" stroke-width="0.7"/>
<rect x="176.40" y="534.81" width="2.65" height="26.53" fill="#fff" stroke="#000" stroke-width="0.7"/>
<rect x="181.56" y="528.66" width="2.65" height="32.69" fill="#fff" stroke="#000" stroke-width="0.7"/>
<rect x="186.71" y="528.66" width="2.65" height="32.69" fill="#fff" stroke="#000" stroke-width="0.7"/>
<rect x="191.86" y="534.81" width="2.65" height="26.53" fill="#fff" stroke="#000" stroke-width="0.7"/>
<rect x="197.01" y="546.66" width="2.65" height="14.69" fill="#fff" stroke="#000" stroke-width="0.7"/>
<rect x="202.16" y="561.34" width="2.65" height="1.18" fill="#fff" stroke="#000" stroke-width="0.7"/>
<rect x="207.32" y="561.34" width="2.65" height="14.21" fill="#fff" stroke="#000" stroke-width="0.7"/>
<rect x="212.47" y="561.34" width="2.65" height="25.82" fill="#fff" stroke="#000" stroke-width="0.7"/>
<rect x="217.62" y="561.34" width="2.65" height="32.69" fill="#fff" stroke="#000" stroke-width="0.7"/>
<rect x="222.77" y="561.34" width="2.65" height="33.16" fill="#fff" stroke="#000" stroke-width="0.7"/>
<rect x="227.92" y="561.34" width="2.65" height="27.24" fill="#fff" stroke="#000" stroke-width="0.7"/>
<rect x="233.08" y="561.34" width="2.65" height="16.58" fill="#fff" stroke="#000" stroke-width="0.7"/>
<rect x="238.23" y="561.34" width="2.65" height="1.42" fill="#fff" stroke="#000" stroke-width="0.7"/>
<rect x="243.38" y="549.03" width="2.65" height="12.32" fill="#fff" stroke="#000" stroke-width="0.7"/>
<rect x="248.53" y="536.71" width="2.65" height="24.63" fill="#fff" stroke="#000" stroke-width="0.7"/>
<rect x="253.68" y="529.37" width="2.65" height="31.98" fill="#fff" stroke="#000" stroke-width="0.7"/>
<rect x="258.84" y="528.42" width="2.65" height="32.92" fill="#fff" stroke="#000" stroke-width="0.7"/>
<rect x="263.99" y="533.39" width="2.65" height="27.95" fill="#fff" stroke="#000" stroke-width="0.7"/>
<rect x="269.14" y="544.05" width="2.65" height="17.29" fill="#fff" stroke="#000" stroke-width="0.7"/>
<rect x="274.29" y="557.79" width="2.65" height="3.55" fill="#fff" stroke="#000" stroke-width="0.7"/>
<rect x="279.44" y="561.34" width="2.65" height="10.66" fill="#fff" stroke="#000" stroke-width="0.7"/>
<rect x="284.60" y="561.34" width="2.65" height="22.98" fill="#fff" stroke="#000" stroke-width="0.7"/>
<rect x="289.75" y="561.34" width="2.65" height="31.50" fill="#fff" stroke="#000" stroke-width="0.7"/>
<rect x="294.90" y="561.34" width="2.65" height="33.63" fill="#fff" stroke="#000" stroke-width="0.7"/>
<line x1="38.0" y1="561.3428571428572" x2="295.6" y2="561.3428571428572" stroke="#000" stroke-width="0.8"/>
</g>
<path d="M38.0 466.5H295.5M295.5 466.5V632.5M38.0 632.5H295.5" fill="none" stroke="#262626" stroke-width="1"/>
<line x1="38.0" y1="466.0" x2="38.0" y2="633.1" stroke="#262626" stroke-width="1.3"/>
<line x1="38.0" y1="632.5" x2="38.0" y2="629.9" stroke="#262626" stroke-width="0.8"/>
<line x1="38.0" y1="466.5" x2="38.0" y2="469.1" stroke="#262626" stroke-width="0.8"/>
<line x1="89.52000000000001" y1="632.5" x2="89.52000000000001" y2="629.9" stroke="#262626" stroke-width="0.8"/>
<line x1="89.52000000000001" y1="466.5" x2="89.52000000000001" y2="469.1" stroke="#262626" stroke-width="0.8"/>
<line x1="141.04000000000002" y1="632.5" x2="141.04000000000002" y2="629.9" stroke="#262626" stroke-width="0.8"/>
<line x1="141.04000000000002" y1="466.5" x2="141.04000000000002" y2="469.1" stroke="#262626" stroke-width="0.8"/>
<line x1="192.56" y1="632.5" x2="192.56" y2="629.9" stroke="#262626" stroke-width="0.8"/>
<line x1="192.56" y1="466.5" x2="192.56" y2="469.1" stroke="#262626" stroke-width="0.8"/>
<line x1="244.08000000000004" y1="632.5" x2="244.08000000000004" y2="629.9" stroke="#262626" stroke-width="0.8"/>
<line x1="244.08000000000004" y1="466.5" x2="244.08000000000004" y2="469.1" stroke="#262626" stroke-width="0.8"/>
<line x1="295.6" y1="632.5" x2="295.6" y2="629.9" stroke="#262626" stroke-width="0.8"/>
<line x1="295.6" y1="466.5" x2="295.6" y2="469.1" stroke="#262626" stroke-width="0.8"/>
<line x1="38.0" y1="632.4" x2="40.6" y2="632.4" stroke="#262626" stroke-width="0.8"/>
<line x1="295.5" y1="632.4" x2="292.9" y2="632.4" stroke="#262626" stroke-width="0.8"/>
<line x1="38.0" y1="608.7142857142857" x2="40.6" y2="608.7142857142857" stroke="#262626" stroke-width="0.8"/>
<line x1="295.5" y1="608.7142857142857" x2="292.9" y2="608.7142857142857" stroke="#262626" stroke-width="0.8"/>
<line x1="38.0" y1="585.0285714285715" x2="40.6" y2="585.0285714285715" stroke="#262626" stroke-width="0.8"/>
<line x1="295.5" y1="585.0285714285715" x2="292.9" y2="585.0285714285715" stroke="#262626" stroke-width="0.8"/>
<line x1="38.0" y1="561.3428571428572" x2="40.6" y2="561.3428571428572" stroke="#262626" stroke-width="0.8"/>
<line x1="295.5" y1="561.3428571428572" x2="292.9" y2="561.3428571428572" stroke="#262626" stroke-width="0.8"/>
<line x1="38.0" y1="537.6571428571428" x2="40.6" y2="537.6571428571428" stroke="#262626" stroke-width="0.8"/>
<line x1="295.5" y1="537.6571428571428" x2="292.9" y2="537.6571428571428" stroke="#262626" stroke-width="0.8"/>
<line x1="38.0" y1="513.9714285714285" x2="40.6" y2="513.9714285714285" stroke="#262626" stroke-width="0.8"/>
<line x1="295.5" y1="513.9714285714285" x2="292.9" y2="513.9714285714285" stroke="#262626" stroke-width="0.8"/>
<line x1="38.0" y1="490.28571428571433" x2="40.6" y2="490.28571428571433" stroke="#262626" stroke-width="0.8"/>
<line x1="295.5" y1="490.28571428571433" x2="292.9" y2="490.28571428571433" stroke="#262626" stroke-width="0.8"/>
<line x1="38.0" y1="466.6" x2="40.6" y2="466.6" stroke="#262626" stroke-width="0.8"/>
<line x1="295.5" y1="466.6" x2="292.9" y2="466.6" stroke="#262626" stroke-width="0.8"/>
<text transform="translate(38.00 644.90) scale(0.82 1)" font-size="11.2" text-anchor="middle">0</text>
<text transform="translate(89.52 644.90) scale(0.82 1)" font-size="11.2" text-anchor="middle">0.05</text>
<text transform="translate(141.04 644.90) scale(0.82 1)" font-size="11.2" text-anchor="middle">0.1</text>
<text transform="translate(192.56 644.90) scale(0.82 1)" font-size="11.2" text-anchor="middle">0.15</text>
<text transform="translate(244.08 644.90) scale(0.82 1)" font-size="11.2" text-anchor="middle">0.2</text>
<text transform="translate(295.60 644.90) scale(0.82 1)" font-size="11.2" text-anchor="middle">0.25</text>
<text transform="translate(35.40 637.00) scale(0.82 1)" font-size="11.2" text-anchor="end">−3</text>
<text transform="translate(35.40 613.31) scale(0.82 1)" font-size="11.2" text-anchor="end">−2</text>
<text transform="translate(35.40 589.63) scale(0.82 1)" font-size="11.2" text-anchor="end">−1</text>
<text transform="translate(35.40 565.94) scale(0.82 1)" font-size="11.2" text-anchor="end">0</text>
<text transform="translate(35.40 542.26) scale(0.82 1)" font-size="11.2" text-anchor="end">1</text>
<text transform="translate(35.40 518.57) scale(0.82 1)" font-size="11.2" text-anchor="end">2</text>
<text transform="translate(35.40 494.89) scale(0.82 1)" font-size="11.2" text-anchor="end">3</text>
<text transform="translate(35.40 471.20) scale(0.82 1)" font-size="11.2" text-anchor="end">4</text>
<text transform="translate(166.80 659.20) scale(0.905 1)" font-size="14.4" text-anchor="middle">Time (s)</text>
<text transform="translate(17.5 550.4) rotate(-90)" font-size="14.3" text-anchor="middle">Signal (AU)</text>
<rect x="147" y="471.3" width="143.7" height="33.2" fill="#fff" stroke="#444" stroke-width="1"/>
<rect x="152.5" y="474.4" width="30" height="11.6" fill="#000"/>
<rect x="152.9" y="489.5" width="29.2" height="11.1" fill="#fff" stroke="#222" stroke-width="0.9"/>
<text transform="translate(185.50 484.50) scale(0.895 1)" font-size="12.5" text-anchor="start">Noisy data</text>
<text transform="translate(185.50 499.50) scale(0.895 1)" font-size="12.5" text-anchor="start">Underlying sinusoids</text>
<clipPath id="cct"><rect x="377.4" y="466.8" width="257.6" height="165.49999999999994"/></clipPath><g clip-path="url(#cct)">
<polygon points="377.40,527.26 409.60,519.10 441.80,518.22 474.00,503.32 506.20,487.10 538.40,483.90 570.60,476.73 602.80,466.25 635.00,460.18 635.00,504.75 602.80,506.63 570.60,510.16 538.40,511.49 506.20,511.82 474.00,547.34 441.80,554.96 409.60,558.16 377.40,573.38" fill="#e8e8e8" stroke="none"/>
<polyline points="377.40,527.26 409.60,519.10 441.80,518.22 474.00,503.32 506.20,487.10 538.40,483.90 570.60,476.73 602.80,466.25 635.00,460.18" fill="none" stroke="#383838" stroke-width="1.0" stroke-linejoin="round"/>
<polyline points="377.40,573.38 409.60,558.16 441.80,554.96 474.00,547.34 506.20,511.82 538.40,511.49 570.60,510.16 602.80,506.63 635.00,504.75" fill="none" stroke="#383838" stroke-width="1.0" stroke-linejoin="round"/>
<polygon points="377.40,601.08 409.60,590.15 441.80,580.66 474.00,573.93 506.20,570.95 538.40,564.44 570.60,558.16 602.80,551.65 635.00,546.24 635.00,558.93 602.80,564.44 570.60,570.62 538.40,576.69 506.20,581.77 474.00,585.30 441.80,592.36 409.60,601.08 377.40,610.56" fill="#e8e8e8" stroke="none"/>
<polyline points="377.40,601.08 409.60,590.15 441.80,580.66 474.00,573.93 506.20,570.95 538.40,564.44 570.60,558.16 602.80,551.65 635.00,546.24" fill="none" stroke="#383838" stroke-width="1.0" stroke-linejoin="round"/>
<polyline points="377.40,610.56 409.60,601.08 441.80,592.36 474.00,585.30 506.20,581.77 538.40,576.69 570.60,570.62 602.80,564.44 635.00,558.93" fill="none" stroke="#383838" stroke-width="1.0" stroke-linejoin="round"/>
<polyline points="377.40,606.04 409.60,595.56 441.80,586.73 474.00,579.34 506.20,576.58 538.40,571.18 570.60,564.44 602.80,557.71 635.00,552.75" fill="none" stroke="#ff0000" stroke-width="2.6" stroke-linejoin="round"/>
<polyline points="377.40,550.87 409.60,538.63 441.80,536.75 474.00,525.06 506.20,499.68 538.40,497.91 570.60,497.14 602.80,496.37" fill="none" stroke="#0000ff" stroke-width="2.6" stroke-dasharray="6 5.4" stroke-linejoin="round"/>
</g>
<path d="M377.4 466.5H635.5M635.5 466.5V632.5M377.4 632.5H635.5" fill="none" stroke="#262626" stroke-width="1"/>
<line x1="377.4" y1="466.0" x2="377.4" y2="633.1" stroke="#262626" stroke-width="1.3"/>
<line x1="377.4" y1="632.5" x2="377.4" y2="629.9" stroke="#262626" stroke-width="0.8"/>
<line x1="377.4" y1="466.5" x2="377.4" y2="469.1" stroke="#262626" stroke-width="0.8"/>
<line x1="409.59999999999997" y1="632.5" x2="409.59999999999997" y2="629.9" stroke="#262626" stroke-width="0.8"/>
<line x1="409.59999999999997" y1="466.5" x2="409.59999999999997" y2="469.1" stroke="#262626" stroke-width="0.8"/>
<line x1="441.79999999999995" y1="632.5" x2="441.79999999999995" y2="629.9" stroke="#262626" stroke-width="0.8"/>
<line x1="441.79999999999995" y1="466.5" x2="441.79999999999995" y2="469.1" stroke="#262626" stroke-width="0.8"/>
<line x1="474.0" y1="632.5" x2="474.0" y2="629.9" stroke="#262626" stroke-width="0.8"/>
<line x1="474.0" y1="466.5" x2="474.0" y2="469.1" stroke="#262626" stroke-width="0.8"/>
<line x1="506.2" y1="632.5" x2="506.2" y2="629.9" stroke="#262626" stroke-width="0.8"/>
<line x1="506.2" y1="466.5" x2="506.2" y2="469.1" stroke="#262626" stroke-width="0.8"/>
<line x1="538.4" y1="632.5" x2="538.4" y2="629.9" stroke="#262626" stroke-width="0.8"/>
<line x1="538.4" y1="466.5" x2="538.4" y2="469.1" stroke="#262626" stroke-width="0.8"/>
<line x1="570.6" y1="632.5" x2="570.6" y2="629.9" stroke="#262626" stroke-width="0.8"/>
<line x1="570.6" y1="466.5" x2="570.6" y2="469.1" stroke="#262626" stroke-width="0.8"/>
<line x1="602.8" y1="632.5" x2="602.8" y2="629.9" stroke="#262626" stroke-width="0.8"/>
<line x1="602.8" y1="466.5" x2="602.8" y2="469.1" stroke="#262626" stroke-width="0.8"/>
<line x1="635.0" y1="632.5" x2="635.0" y2="629.9" stroke="#262626" stroke-width="0.8"/>
<line x1="635.0" y1="466.5" x2="635.0" y2="469.1" stroke="#262626" stroke-width="0.8"/>
<line x1="377.4" y1="632.3" x2="380.0" y2="632.3" stroke="#262626" stroke-width="0.8"/>
<line x1="635.5" y1="632.3" x2="632.9" y2="632.3" stroke="#262626" stroke-width="0.8"/>
<line x1="377.4" y1="577.1333333333333" x2="380.0" y2="577.1333333333333" stroke="#262626" stroke-width="0.8"/>
<line x1="635.5" y1="577.1333333333333" x2="632.9" y2="577.1333333333333" stroke="#262626" stroke-width="0.8"/>
<line x1="377.4" y1="521.9666666666667" x2="380.0" y2="521.9666666666667" stroke="#262626" stroke-width="0.8"/>
<line x1="635.5" y1="521.9666666666667" x2="632.9" y2="521.9666666666667" stroke="#262626" stroke-width="0.8"/>
<line x1="377.4" y1="466.8" x2="380.0" y2="466.8" stroke="#262626" stroke-width="0.8"/>
<line x1="635.5" y1="466.8" x2="632.9" y2="466.8" stroke="#262626" stroke-width="0.8"/>
<text transform="translate(377.40 644.80) scale(0.82 1)" font-size="11.2" text-anchor="middle">2</text>
<text transform="translate(409.60 644.80) scale(0.82 1)" font-size="11.2" text-anchor="middle">3</text>
<text transform="translate(441.80 644.80) scale(0.82 1)" font-size="11.2" text-anchor="middle">4</text>
<text transform="translate(474.00 644.80) scale(0.82 1)" font-size="11.2" text-anchor="middle">5</text>
<text transform="translate(506.20 644.80) scale(0.82 1)" font-size="11.2" text-anchor="middle">6</text>
<text transform="translate(538.40 644.80) scale(0.82 1)" font-size="11.2" text-anchor="middle">7</text>
<text transform="translate(570.60 644.80) scale(0.82 1)" font-size="11.2" text-anchor="middle">8</text>
<text transform="translate(602.80 644.80) scale(0.82 1)" font-size="11.2" text-anchor="middle">9</text>
<text transform="translate(635.00 644.80) scale(0.82 1)" font-size="11.2" text-anchor="middle">10</text>
<text transform="translate(374.80 636.90) scale(0.82 1)" font-size="11.2" text-anchor="end">0</text>
<text transform="translate(374.80 581.73) scale(0.82 1)" font-size="11.2" text-anchor="end">50</text>
<text transform="translate(374.80 526.57) scale(0.82 1)" font-size="11.2" text-anchor="end">100</text>
<text transform="translate(374.80 471.40) scale(0.82 1)" font-size="11.2" text-anchor="end">150</text>
<text transform="translate(506.20 659.10) scale(0.905 1)" font-size="14.4" text-anchor="middle">Q</text>
<text transform="translate(352.0 550.3499999999999) rotate(-90)" font-size="14.1" text-anchor="middle">Computation time (s)</text>
<rect x="544.4" y="471.3" width="86.3" height="33.2" fill="#fff" stroke="#444" stroke-width="1"/>
<line x1="550.4" y1="479.7" x2="581" y2="479.7" stroke="#ff0000" stroke-width="2"/>
<line x1="550.4" y1="494.7" x2="581" y2="494.7" stroke="#0000ff" stroke-width="2" stroke-dasharray="6 5.4"/>
<text transform="translate(583.80 484.80) scale(0.895 1)" font-size="12.6" text-anchor="start">LR–MAR</text>
<text transform="translate(583.80 499.80) scale(0.895 1)" font-size="12.6" text-anchor="start">KS</text>
</svg></body></html>
